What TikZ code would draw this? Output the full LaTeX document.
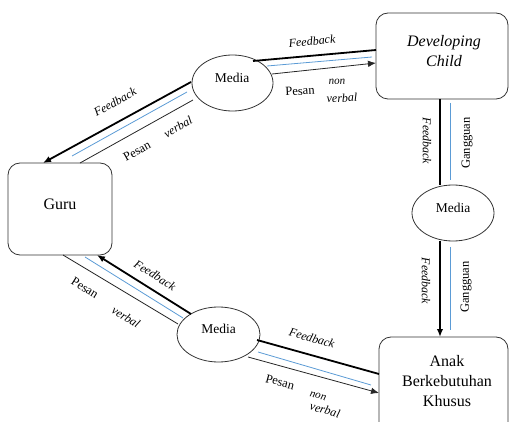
\documentclass[tikz,border=0pt]{standalone}
\usepackage{fontspec}
\setmainfont{Liberation Serif}
\usetikzlibrary{shapes.geometric,arrows.meta}
\definecolor{blueline}{RGB}{91,155,213}
\begin{document}
\begin{tikzpicture}[x=1pt,y=-1pt,
  box/.style={draw=black!80, line width=0.8pt, rounded corners=12pt, rectangle, inner sep=0pt},
  media/.style={draw=black!80, line width=0.8pt, ellipse, inner sep=0pt},
  fb/.style={line width=1.8pt, black},
  thinln/.style={line width=0.8pt, black!85},
  blu/.style={line width=0.8pt, blueline},
  tipend/.style={-{Latex[length=8pt,width=6.5pt]}},
  bigtxt/.style={inner sep=0pt, font=\fontsize{16}{20}\selectfont, align=center},
  medtxt/.style={inner sep=0pt, font=\fontsize{13.5}{15}\selectfont},
  lab/.style={inner sep=0pt, font=\fontsize{12.5}{14}\selectfont},
  ilab/.style={inner sep=0pt, font=\fontsize{12}{14}\selectfont\itshape}]
\useasboundingbox (0,0) rectangle (509,422);
\clip (0,0) rectangle (509,422);

% boxes
\node[box, minimum width=104pt, minimum height=92pt] (guru) at (60,209) {};
\node[box, minimum width=132pt, minimum height=86pt] (dev) at (442,56) {};
\node[box, minimum width=129pt, minimum height=104pt] (anak) at (443.5,389) {};
\node[bigtxt] (gurut) at (60,204) {Guru};
\node[bigtxt, font=\fontsize{16}{20}\selectfont\itshape] (devt) at (444,51) {Developing\\Child};
\node[bigtxt] (anakt) at (447,381) {Anak\\Berkebutuhan\\Khusus};

% media ellipses
\node[media, minimum width=81pt, minimum height=56pt] (mt) at (232.5,83) {};
\node[media, minimum width=82pt, minimum height=56pt] (mr) at (453,213) {};
\node[media, minimum width=83pt, minimum height=55pt] (mb) at (218.5,334.5) {};
\node[medtxt] (mtt) at (232,78) {Media};
\node[medtxt] (mrt) at (453,207.5) {Media};
\node[medtxt] (mbt) at (218.5,328.5) {Media};

% endpoints
\coordinate (tl1) at (191,82);   \coordinate (tl2) at (43,163);
\coordinate (tl3) at (187,92);   \coordinate (tl4) at (72,156);
\coordinate (tl5) at (193,100);  \coordinate (tl6) at (80,163);
\coordinate (tr1) at (253,61);   \coordinate (tr2) at (376,50);
\coordinate (tr3) at (267,66);   \coordinate (tr4) at (372,57);
\coordinate (tr5) at (272,74);   \coordinate (tr6) at (376,63);
\coordinate (vu1) at (440,99);   \coordinate (vu2) at (440,185);
\coordinate (vu3) at (450,103);  \coordinate (vu4) at (450,180);
\coordinate (vl1) at (440,241);  \coordinate (vl2) at (440,337);
\coordinate (vl3) at (450,247);  \coordinate (vl4) at (450,330);
\coordinate (bl1) at (191,314);  \coordinate (bl2) at (97,255);
\coordinate (bl3) at (183,318);  \coordinate (bl4) at (85,257);
\coordinate (bl5) at (178,324);  \coordinate (bl6) at (63,255);
\coordinate (br1) at (257,340);  \coordinate (br2) at (379,374);
\coordinate (br3) at (258,352);  \coordinate (br4) at (371,385);
\coordinate (br5) at (248,357);  \coordinate (br6) at (379,393);

% top-left: media -> guru
\draw[fb, tipend] (tl1) -- (tl2);
\draw[blu] (tl3) -- (tl4);
\draw[thinln] (tl5) -- (tl6);
% top-right: media -> developing child
\draw[fb] (tr1) -- (tr2);
\draw[blu] (tr3) -- (tr4);
\draw[thinln, tipend] (tr5) -- (tr6);
% vertical upper
\draw[fb] (vu1) -- (vu2);
\draw[blu] (vu3) -- (vu4);
% vertical lower
\draw[fb, tipend] (vl1) -- (vl2);
\draw[blu] (vl3) -- (vl4);
% bottom-left: media -> guru
\draw[fb, tipend] (bl1) -- (bl2);
\draw[blu] (bl3) -- (bl4);
\draw[thinln] (bl5) -- (bl6);
% bottom-right: media -> anak
\draw[fb] (br1) -- (br2);
\draw[blu] (br3) -- (br4);
\draw[thinln, tipend] (br5) -- (br6);

% labels top-left
\node[ilab, rotate=29] (l1) at (115,102) {Feedback};
\node[lab, rotate=29] (l2) at (137,151) {Pesan};
\node[ilab, rotate=29] (l3) at (178,127) {verbal};
% labels top-right
\node[ilab, rotate=5] (l4) at (312,41) {Feedback};
\node[lab, rotate=3] (l5) at (300,91) {Pesan};
\node[ilab, rotate=3, font=\fontsize{11}{13}\selectfont\itshape] (l6) at (337,82) {non};
\node[ilab, rotate=3] (l7) at (342,98) {verbal};
% labels vertical
\node[ilab, rotate=-90] (l8) at (427,141) {Feedback};
\node[lab, rotate=90] (l9) at (467,143) {Gangguan};
\node[ilab, rotate=-90] (l10) at (426,281) {Feedback};
\node[lab, rotate=90] (l11) at (466,287) {Gangguan};
% labels bottom-left
\node[ilab, rotate=-32] (l12) at (155,275) {Feedback};
\node[lab, rotate=-32] (l13) at (85,288) {Pesan};
\node[ilab, rotate=-32] (l14) at (126,317) {verbal};
% labels bottom-right
\node[ilab, rotate=-16] (l15) at (312,338) {Feedback};
\node[lab, rotate=-15] (l16) at (280,382) {Pesan};
\node[ilab, rotate=-15, font=\fontsize{11}{13}\selectfont\itshape] (l17) at (318,396) {non};
\node[ilab, rotate=-15] (l18) at (325,410) {verbal};
\end{tikzpicture}
\end{document}
